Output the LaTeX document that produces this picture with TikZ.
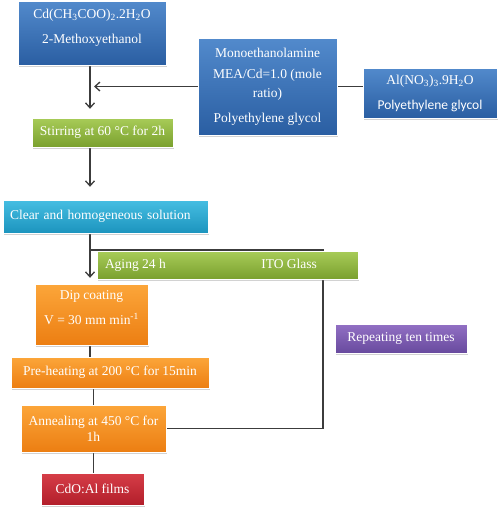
\documentclass[tikz,border=0pt]{standalone}
\usepackage{fontspec}
\setmainfont{Liberation Serif}
\newfontfamily\carlitofont{Carlito}
\usetikzlibrary{arrows.meta,shadows,backgrounds}
\definecolor{bluetop}{RGB}{82,138,204}
\definecolor{bluebot}{RGB}{42,94,162}
\definecolor{greentop}{RGB}{168,204,88}
\definecolor{greenbot}{RGB}{122,160,46}
\definecolor{cyantop}{RGB}{70,190,226}
\definecolor{cyanbot}{RGB}{28,148,190}
\definecolor{orangetop}{RGB}{252,166,58}
\definecolor{orangebot}{RGB}{236,126,18}
\definecolor{purpletop}{RGB}{146,112,196}
\definecolor{purplebot}{RGB}{104,74,158}
\definecolor{redtop}{RGB}{214,62,72}
\definecolor{redbot}{RGB}{178,30,42}
\definecolor{linecol}{RGB}{60,60,60}
\tikzset{
  boxbase/.style={rectangle, text=white, inner sep=4pt, align=center,
    font=\fontsize{13.5}{16}\selectfont,
    drop shadow={shadow xshift=1.2pt, shadow yshift=-1.5pt, opacity=0.35},
    draw=white, line width=0.4pt},
  bluebox/.style={boxbase, top color=bluetop, bottom color=bluebot},
  greenbox/.style={boxbase, top color=greentop, bottom color=greenbot},
  cyanbox/.style={boxbase, top color=cyantop, bottom color=cyanbot},
  orangebox/.style={boxbase, top color=orangetop, bottom color=orangebot},
  purplebox/.style={boxbase, top color=purpletop, bottom color=purplebot},
  redbox/.style={boxbase, top color=redtop, bottom color=redbot},
  conn/.style={draw=linecol, line width=1.4pt},
  arr/.style={conn, -{Straight Barb[length=5pt,width=9pt,line width=1.3pt]}}
}
\begin{document}
\begin{tikzpicture}[x=1pt,y=-1pt]
\useasboundingbox (0,0) rectangle (500,507);

\node[bluebox, minimum width=148pt, minimum height=64pt, text depth=13pt] (cd) at (92,33)
  {Cd(CH\textsubscript{3}COO)\textsubscript{2}.2H\textsubscript{2}O\\[9pt]2-Methoxyethanol};
\node[bluebox, minimum width=139pt, minimum height=97pt] (mea) at (267.5,86.5)
  {Monoethanolamine\\[5pt]MEA/Cd=1.0 (mole\\[3pt]ratio)\\[9pt]Polyethylene glycol};
\node[bluebox, minimum width=134pt, minimum height=50pt] (al) at (430,93)
  {Al(NO\textsubscript{3})\textsubscript{3}.9H\textsubscript{2}O\\[9pt]{\carlitofont Polyethylene glycol}};
\node[greenbox, minimum width=141pt, minimum height=29pt] (stir) at (102.5,132.5)
  {Stirring at 60 °C for 2h};
\node[cyanbox, text width=191pt, inner xsep=7pt, minimum height=33pt, align=left] (clear) at (105.5,216.5)
  {Clear and homogeneous solution};
\node[greenbox, inner xsep=8pt, minimum width=261pt, minimum height=28pt] (aging) at (227.5,265)
  {\makebox[245pt][l]{Aging 24 h\hfill ITO Glass\hspace{33pt}}};
\node[orangebox, minimum width=113pt, minimum height=61pt, text depth=13pt] (dip) at (91.5,314.5)
  {Dip coating\\[9pt]V = 30 mm min\textsuperscript{-1}};
\node[purplebox, minimum width=132pt, minimum height=29pt] (rep) at (401,338.5)
  {Repeating ten times};
\node[orangebox, minimum width=198pt, minimum height=31pt] (pre) at (110,372.5)
  {Pre-heating at 200 °C for 15min};
\node[orangebox, minimum width=145pt, minimum height=47pt] (ann) at (93.5,428.5)
  {Annealing at 450 °C for\\1h};
\node[redbox, minimum width=103pt, minimum height=32pt] (cdo) at (92.5,489)
  {CdO:Al films};

\coordinate (loopc) at (323,250);

\begin{scope}[on background layer]
\fill[white] (0,0) rectangle (500,507);
\draw[arr, shorten >=9pt] ([xshift=-2pt]cd.south) -- ([xshift=-2pt]cd.south |- stir.north);
\draw[arr] (mea.west) -- ([xshift=2pt]mea.west -| cd.south);
\draw[arr, shorten >=13pt] ([xshift=-2pt]cd.south |- stir.south) -- ([xshift=-2pt]cd.south |- clear.north);
\draw[arr, shorten >=6pt] ([xshift=-2pt]cd.south |- clear.south) -- ([xshift=-2pt]cd.south |- dip.north);
\draw[conn] (mea.east) -- (mea.east -| al.west);
\draw[conn] (ann.east) -| (loopc) -- ([xshift=-2pt]loopc -| cd.south);
\draw[conn] ([xshift=-2pt]cd.south |- dip.south) -- ([xshift=-2pt]cd.south |- pre.north);
\draw[conn] (ann.north |- pre.south) -- (ann.north);
\draw[conn] (ann.south) -- (ann.south |- cdo.north);
\end{scope}
\end{tikzpicture}
\end{document}
